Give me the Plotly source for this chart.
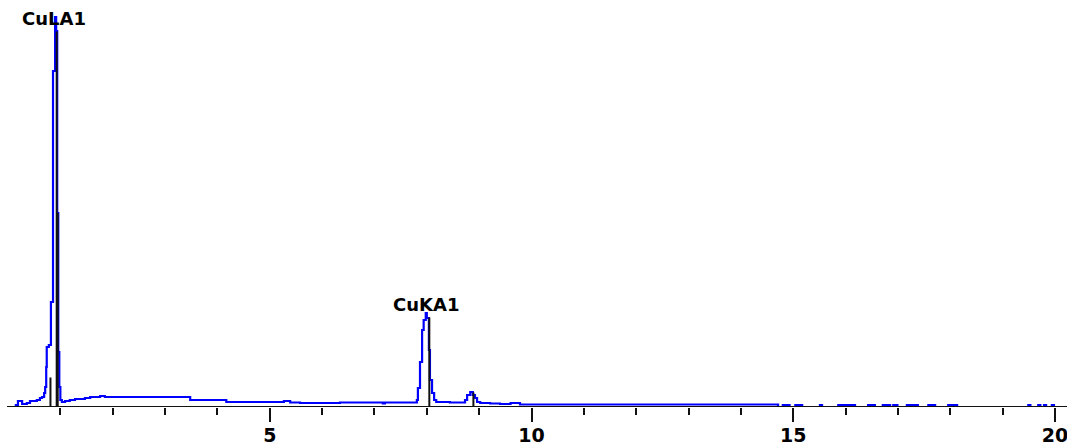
import plotly.graph_objects as go

# ---- spectrum (energy in keV, counts) ----
energy_kev = [
    0.11, 0.15, 0.19, 0.25, 0.27, 0.32, 0.36, 0.42, 0.50, 0.55, 0.61, 0.65,
    0.69, 0.71, 0.73, 0.74, 0.78, 0.82, 0.86, 0.90, 0.92, 0.94, 0.96, 0.98,
    1.00, 1.03, 1.09, 1.18, 1.28, 1.38, 1.47, 1.57, 1.76, 1.85, 1.95, 2.33,
    2.71, 3.09, 3.42, 3.48, 3.67, 3.86, 4.09, 4.17, 4.43, 4.81, 5.20, 5.27,
    5.39, 5.58, 5.96, 6.34, 6.72, 7.16, 7.20, 7.48, 7.77, 7.81, 7.83, 7.87,
    7.91, 7.94, 7.98, 8.00, 8.04, 8.06, 8.10, 8.14, 8.18, 8.44, 8.73, 8.77,
    8.83, 8.88, 8.92, 8.96, 9.02, 9.21, 9.40, 9.60, 9.78, 10.40, 11.50, 12.60,
    13.70, 14.65, 14.71,
]
counts = [
    0, 20, 60, 60, 30, 30, 40, 60, 60, 70, 90, 100,
    140, 200, 400, 600, 620, 1050, 3360, 3900, 3760, 1940, 550, 200,
    70, 50, 60, 70, 80, 80, 90, 100, 110, 100, 100, 100,
    100, 100, 100, 70, 70, 70, 70, 50, 50, 50, 50, 60,
    45, 40, 40, 45, 45, 35, 45, 45, 45, 70, 190, 450,
    770, 870, 940, 890, 570, 270, 140, 70, 50, 45, 70, 120,
    150, 120, 90, 50, 40, 35, 30, 40, 25, 25, 25, 25,
    25, 25, 0,
]

# sporadic single counts at high energy (start, end keV)
blip_start = [14.80, 15.04, 15.51, 15.86, 16.43, 16.71, 16.91, 17.17, 17.58, 17.96, 19.49, 19.68, 19.79, 19.94]
blip_end   = [14.93, 15.17, 15.55, 16.18, 16.56, 16.85, 16.99, 17.38, 17.71, 18.13, 19.53, 19.72, 19.83, 19.98]
blip_count = 20

# ---- KLM line markers ----
marker_kev    = [0.811, 0.930, 0.950, 8.048, 8.890]
marker_counts = [295, 3755, 1940, 895, 145]

# ---- labels ----
label_text   = ["CuLA1", "CuKA1"]
label_kev    = [0.879, 7.994]
label_counts = [3890, 1030]

# ---- axis ticks ----
major_ticks = [5, 10, 15, 20]
minor_ticks = [1, 2, 3, 4, 6, 7, 8, 9, 11, 12, 13, 14, 16, 17, 18, 19]

# build full step series including blips
xs = list(energy_kev)
ys = list(counts)
for s, e in zip(blip_start, blip_end):
    xs += [s, e]
    ys += [blip_count, 0]
xs.append(20.3)
ys.append(0)

fig = go.Figure()
fig.add_trace(go.Scatter(
    x=xs, y=ys, mode="lines", line=dict(color="#0000FF", width=2.2, shape="hv"),
    hoverinfo="skip", showlegend=False,
))

mx, my = [], []
for e, c in zip(marker_kev, marker_counts):
    mx += [e, e, None]
    my += [0, c, None]
fig.add_trace(go.Scatter(
    x=mx, y=my, mode="lines", line=dict(color="#111111", width=2),
    hoverinfo="skip", showlegend=False,
))

for t, e, c in zip(label_text, label_kev, label_counts):
    fig.add_annotation(
        x=e, y=c, text=t, showarrow=False, xanchor="center", yanchor="middle",
        font=dict(family="DejaVu Sans", size=18, color="#000000", weight="bold"),
    )

# axis line on top
fig.add_shape(type="line", xref="x", yref="y", x0=-0.02, x1=20.3, y0=0, y1=0,
              line=dict(color="#111111", width=2), layer="above")

fig.update_layout(
    width=1067, height=447,
    margin=dict(l=0, r=0, t=0, b=40),
    paper_bgcolor="white", plot_bgcolor="white",
    xaxis=dict(
        range=[-0.1528, 20.229], showgrid=False, zeroline=False, showline=False,
        tickmode="array", tickvals=major_ticks, ticktext=[str(v) for v in major_ticks],
        ticks="outside", ticklen=14, tickwidth=2, tickcolor="#111111",
        tickfont=dict(family="DejaVu Sans", size=19, color="#000000", weight="bold"),
        ticklabeloverflow="allow", ticklabelstandoff=-3,
        automargin=False,
        minor=dict(tickmode="array", tickvals=minor_ticks, ticks="outside",
                   ticklen=7, tickwidth=2, tickcolor="#111111", showgrid=False),
    ),
    yaxis=dict(range=[0, 4070], visible=False, showgrid=False, zeroline=False),
)

fig.write_html(
    "out.html",
    config={"displayModeBar": False},
    post_script="document.body.style.margin='0';document.body.style.overflow='hidden';",
)
